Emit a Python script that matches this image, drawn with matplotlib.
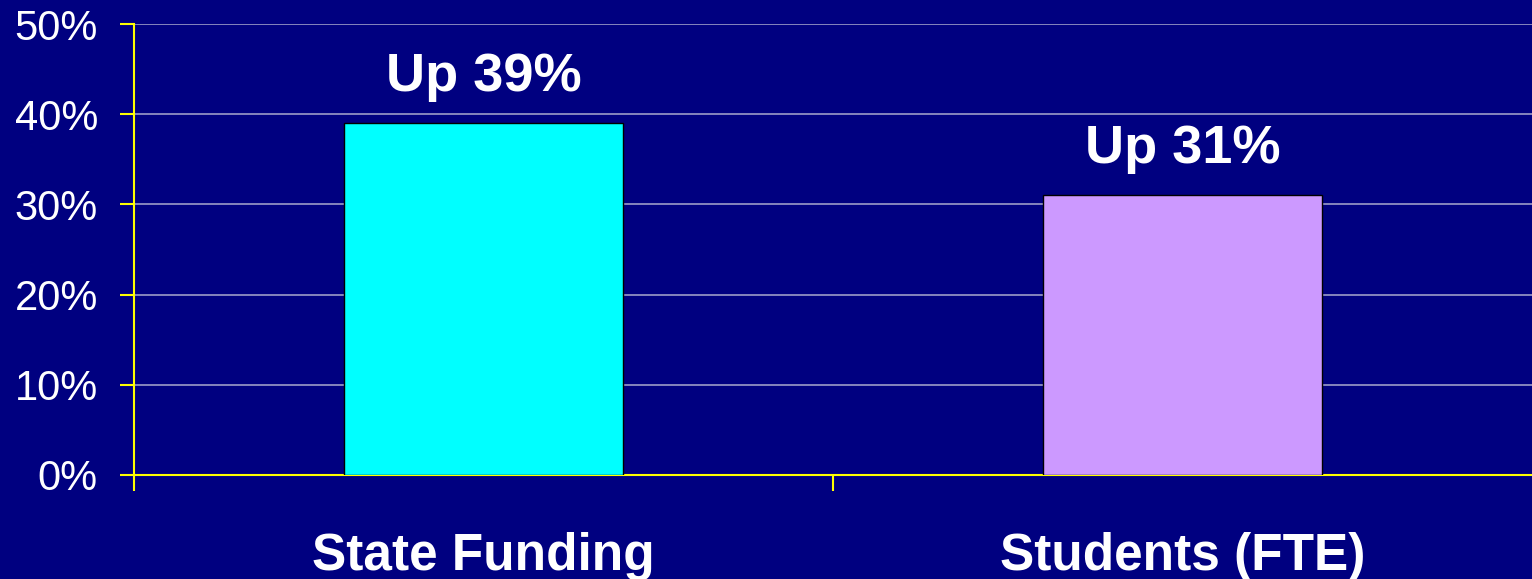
import matplotlib.pyplot as plt
from matplotlib.transforms import blended_transform_factory

plt.rcParams['font.family'] = ['Liberation Sans', 'DejaVu Sans']

# data
categories = ["State Funding", "Students (FTE)"]
values = [39, 31]
labels = ["Up 39%", "Up 31%"]
bar_colors = ["#00FFFF", "#CC99FF"]
yticks = [0, 10, 20, 30, 40, 50]

navy = "#000080"
yellow = "#FFFF00"

fig = plt.figure(figsize=(15.32, 5.79), dpi=100, facecolor=navy)
ax = fig.add_axes([134 / 1532, 104 / 579, 1 - 134 / 1532, 451 / 579])
ax.set_facecolor(navy)

x = list(range(len(categories)))
ax.bar(x, values, width=0.4, color=bar_colors, edgecolor="black", linewidth=1, zorder=3)

ax.set_xlim(-0.5, 1.5)
ax.set_ylim(0, 50)

# gridlines
ax.set_yticks(yticks)
ax.set_yticklabels([f"{v}%" for v in yticks])
ax.yaxis.grid(True, color="#9c9cc8", linewidth=1.2, zorder=0)
ax.set_axisbelow(True)

for s in ["top", "right"]:
    ax.spines[s].set_visible(False)
for s in ["left", "bottom"]:
    ax.spines[s].set_color(yellow)
    ax.spines[s].set_linewidth(1.5)

ax.tick_params(axis="y", colors=yellow, length=10, width=1.5, pad=16,
               labelcolor="white", labelsize=30)
ax.set_xticks([-0.5, 0.5])
ax.set_xticklabels([])
ax.tick_params(axis="x", colors=yellow, length=11.5, width=1.5)

# value labels above bars
for xi, v, lab in zip(x, values, labels):
    ax.annotate(lab, (xi, v), xytext=(0, 23), textcoords="offset points",
                ha="center", va="baseline", color="white",
                fontsize=39, fontweight="bold")

# category labels
trans = blended_transform_factory(ax.transData, fig.transFigure)
for xi, cat in zip(x, categories):
    ax.text(xi, 9 / 579, cat, transform=trans, ha="center", va="baseline",
            color="white", fontsize=37, fontweight="bold", clip_on=False)

fig.savefig("out.png", dpi=100, facecolor=navy)
